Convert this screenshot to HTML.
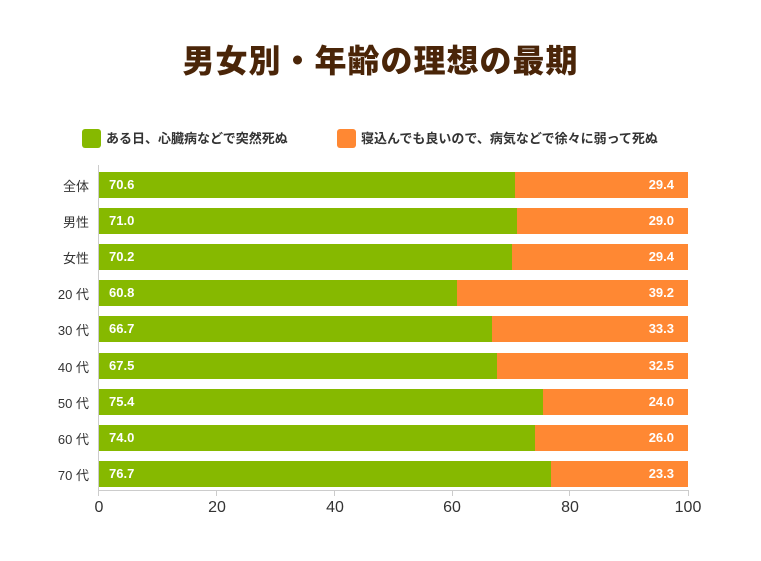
<!DOCTYPE html>
<html><head><meta charset="utf-8"><style>
body{margin:0;width:761px;height:561px;background:#fff;font-family:"Liberation Sans","Noto Sans CJK JP",sans-serif;position:relative;overflow:hidden}
.t{position:absolute;left:0;width:761px;top:36px;text-align:center;font-size:32px;font-weight:900;color:#4a2508;letter-spacing:1px}
.lg{position:absolute;top:129px;font-size:13px;font-weight:bold;color:#333;line-height:20px}
.sq{position:absolute;top:129px;width:19px;height:19px;border-radius:3px}
.row{position:absolute;left:99px;width:589px;height:26px;background:#ff8833}
.g{position:absolute;left:0;top:0;height:26px;background:#86b900}
.v{position:absolute;top:5px;font-size:13px;font-weight:bold;color:#fff}
.cat{position:absolute;right:672px;font-size:13px;color:#333;white-space:nowrap}
.tk{position:absolute;top:499px;font-size:16px;color:#333;width:40px;margin-left:-20px;text-align:center}
</style></head><body>
<div class="t">男女別・年齢の理想の最期</div>
<div class="sq" style="left:82px;background:#86b900"></div>
<div class="lg" style="left:106px">ある日、心臓病などで突然死ぬ</div>
<div class="sq" style="left:337px;background:#ff8833"></div>
<div class="lg" style="left:361px">寝込んでも良いので、病気などで徐々に弱って死ぬ</div>
<div style="position:absolute;left:98px;top:165px;width:1px;height:331px;background:#ccc"></div>
<div style="position:absolute;left:98px;top:490px;width:591px;height:1px;background:#ccc"></div>
<div style="position:absolute;left:216px;top:490px;width:1px;height:6px;background:#ccc"></div>
<div style="position:absolute;left:334px;top:490px;width:1px;height:6px;background:#ccc"></div>
<div style="position:absolute;left:452px;top:490px;width:1px;height:6px;background:#ccc"></div>
<div style="position:absolute;left:569px;top:490px;width:1px;height:6px;background:#ccc"></div>
<div style="position:absolute;left:688px;top:490px;width:1px;height:6px;background:#ccc"></div>
<div class="tk" style="left:99px">0</div><div class="tk" style="left:217px">20</div><div class="tk" style="left:335px">40</div><div class="tk" style="left:452px">60</div><div class="tk" style="left:570px">80</div><div class="tk" style="left:688px">100</div>
<div id="rows"></div>
<script>
var d=[["全体",70.6,29.4],["男性",71.0,29.0],["女性",70.2,29.4],["20 代",60.8,39.2],["30 代",66.7,33.3],["40 代",67.5,32.5],["50 代",75.4,24.0],["60 代",74.0,26.0],["70 代",76.7,23.3]];
var h="";
d.forEach(function(r,i){var y=172+i*36.1;
h+='<div class="cat" style="top:'+(y+4)+'px">'+r[0]+'</div><div class="row" style="top:'+y+'px"><div class="g" style="width:'+(589*r[1]/100)+'px"></div><div class="v" style="left:10px">'+r[1].toFixed(1)+'</div><div class="v" style="right:14px">'+r[2].toFixed(1)+'</div></div>';});
document.getElementById("rows").innerHTML=h;
</script>
</body></html>
